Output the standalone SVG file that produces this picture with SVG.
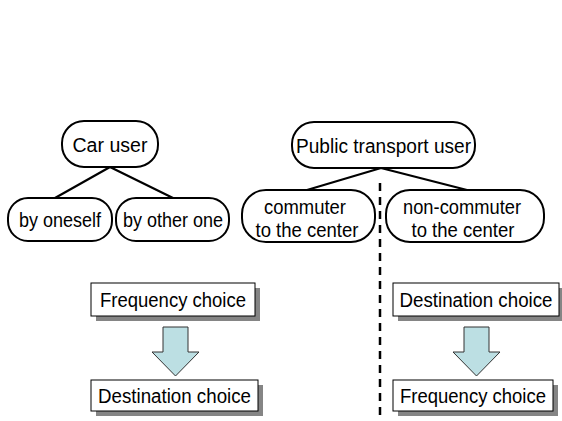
<svg xmlns="http://www.w3.org/2000/svg" width="562" height="421" viewBox="0 0 562 421">
<style>
text{font-family:"Liberation Sans",Arial,sans-serif;font-size:20px;fill:#000;text-anchor:middle}
.pill{fill:#fff;stroke:#000;stroke-width:2}
.box{fill:#fff;stroke:#000;stroke-width:1}
.shadow{fill:#858585}
.arrow{fill:#bcdfe3;stroke:#333;stroke-width:1}
.link{stroke:#000;stroke-width:2.2;fill:none}
.dash{stroke:#000;stroke-width:2.5;stroke-dasharray:8 6;fill:none}
</style>
<rect width="562" height="421" fill="#fff"/>
<g id="connectors">
<path class="link" d="M110 167 L55 198 M110 167 L173 198"/>
<path class="link" d="M381 168 L307 190 M381 168 L467 190"/>
<path class="dash" d="M380 183 L380 416"/>
<polygon class="arrow" points="163,327 188,327 188,352 199,352 175.5,376 152,352 163,352"/>
<polygon class="arrow" points="464,327 489,327 489,352 500,352 476.5,376 453,352 464,352"/>
</g>
<g id="car-user"><rect class="pill" x="62" y="121" width="96" height="46" rx="22"/><text x="110" y="151.5" textLength="75" lengthAdjust="spacingAndGlyphs">Car user</text></g>
<g id="by-oneself"><rect class="pill" x="8" y="198" width="104" height="43" rx="20"/><text x="60" y="226.5" textLength="82" lengthAdjust="spacingAndGlyphs">by oneself</text></g>
<g id="by-other-one"><rect class="pill" x="116" y="198" width="113" height="43" rx="20"/><text x="173" y="226.5" textLength="100" lengthAdjust="spacingAndGlyphs">by other one</text></g>
<g id="public-transport-user"><rect class="pill" x="292" y="122" width="183" height="46" rx="22"/><text x="383.5" y="152.5" textLength="175" lengthAdjust="spacingAndGlyphs">Public transport user</text></g>
<g id="commuter"><rect class="pill" x="242" y="190" width="133" height="52" rx="24"/><text x="305" y="213.5" textLength="82" lengthAdjust="spacingAndGlyphs">commuter</text><text x="307" y="236.5" textLength="103" lengthAdjust="spacingAndGlyphs">to the center</text></g>
<g id="non-commuter"><rect class="pill" x="386" y="190" width="158" height="52" rx="24"/><text x="462" y="213.5" textLength="118" lengthAdjust="spacingAndGlyphs">non-commuter</text><text x="463" y="236.5" textLength="103" lengthAdjust="spacingAndGlyphs">to the center</text></g>
<g id="frequency-left"><rect class="shadow" x="96" y="288" width="164" height="33"/><rect class="box" x="91" y="283" width="164" height="33"/><text x="173" y="306.5" textLength="146" lengthAdjust="spacingAndGlyphs">Frequency choice</text></g>
<g id="destination-left"><rect class="shadow" x="96" y="385" width="167" height="31"/><rect class="box" x="91" y="380" width="167" height="31"/><text x="174.5" y="402.5" textLength="153" lengthAdjust="spacingAndGlyphs">Destination choice</text></g>
<g id="destination-right"><rect class="shadow" x="398" y="288" width="166" height="33"/><rect class="box" x="393" y="283" width="166" height="33"/><text x="476" y="306.5" textLength="153" lengthAdjust="spacingAndGlyphs">Destination choice</text></g>
<g id="frequency-right"><rect class="shadow" x="398" y="385" width="160" height="31"/><rect class="box" x="393" y="380" width="160" height="31"/><text x="473" y="402.5" textLength="146" lengthAdjust="spacingAndGlyphs">Frequency choice</text></g>
</svg>
